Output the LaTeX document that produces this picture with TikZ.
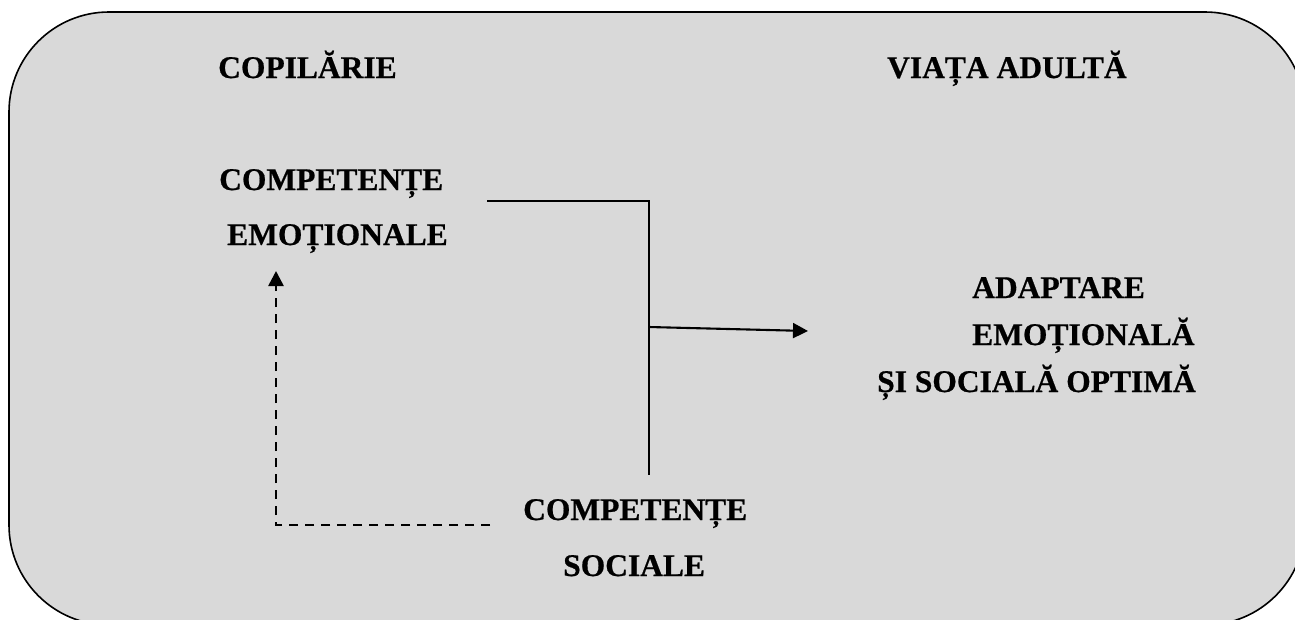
\documentclass[tikz,border=0pt]{standalone}
\usepackage{fontspec}
\setmainfont{Liberation Serif}[BoldFeatures={FakeBold=0.6}]
\usetikzlibrary{arrows.meta}
\definecolor{boxgray}{HTML}{D9D9D9}
\tikzset{
  lbl/.style={anchor=base west, inner sep=0pt, font=\fontsize{31.5}{38}\selectfont\bfseries},
  conn/.style={line width=2.1pt, black},
  dconn/.style={line width=2.6pt, black, dash pattern=on 9pt off 7pt},
  tip/.style={-{Triangle[length=15pt,width=15pt]}}
}
\begin{document}
\begin{tikzpicture}[x=1pt,y=-1pt]
\useasboundingbox (0,0) rectangle (1295,619);
\clip (0,0) rectangle (1295,619);
\draw[fill=boxgray, line width=1.6pt, rounded corners=100pt] (9,12) rectangle (1305,625);

\node[lbl] (cop) at (218,78) {COPILĂRIE};
\node[lbl] (via) at (887,78) {VIAȚA ADULTĂ};
\node[lbl] (ce1) at (219,190) {COMPETENȚE};
\node[lbl] (ce2) at (227,245) {EMOȚIONALE};
\node[lbl] (cs1) at (523,520) {COMPETENȚE};
\node[lbl] (cs2) at (563,576) {SOCIALE};
\node[lbl] (ad1) at (972,298) {ADAPTARE};
\node[lbl] (ad2) at (972,345) {EMOȚIONALĂ};
\node[lbl] (ad3) at (877,392) {ȘI SOCIALĂ OPTIMĂ};

\coordinate (j1) at (487,201);
\coordinate (j2) at (649,201);
\coordinate (j3) at (649,475);
\coordinate (a1) at (649,327);
\coordinate (a2) at (808,331);
\coordinate (d1) at (490,525);
\coordinate (d2) at (276,525);
\coordinate (d3) at (276,271);

\draw[conn] (j1) -- (j2) -- (j3);
\draw[conn, tip] (a1) -- (a2);
\draw[dconn, tip] (d1) -- (d2) -- (d3);
\end{tikzpicture}
\end{document}
